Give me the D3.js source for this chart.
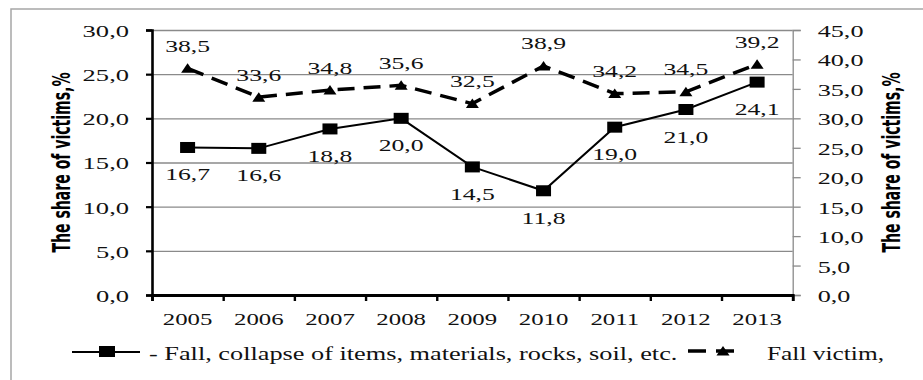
<!DOCTYPE html>
<html>
<head>
<meta charset="utf-8">
<script src="https://cdn.jsdelivr.net/npm/d3@7/dist/d3.min.js"></script>
<style>
  body { margin: 0; background: #fff; }
  svg { display: block; }
</style>
</head>
<body>
<svg id="chart" width="923" height="380"></svg>
<script>
// ---- data ----
const years = ["2005", "2006", "2007", "2008", "2009", "2010", "2011", "2012", "2013"];
const fallCollapse = [16.7, 16.6, 18.8, 20.0, 14.5, 11.8, 19.0, 21.0, 24.1];   // left axis
const fallVictim   = [38.5, 33.6, 34.8, 35.6, 32.5, 38.9, 34.2, 34.5, 39.2];   // right axis
const leftTicks  = [0, 5, 10, 15, 20, 25, 30];
const rightTicks = [0, 5, 10, 15, 20, 25, 30, 35, 40, 45];
const seriesNames = ["- Fall, collapse of items, materials, rocks, soil, etc.", "Fall victim,"];
const axisTitle = "The share of victims,%";

// ---- layout ----
const plot = { left: 152, right: 792.7, top: 30, bottom: 295 };
const SERIF = "'Liberation Serif', 'DejaVu Serif', serif";
const SANS_NARROW = "'Liberation Sans Narrow', 'DejaVu Sans Condensed', 'Liberation Sans', sans-serif";
const svg = d3.select("#chart");

const locale = d3.formatLocale({ decimal: ",", thousands: " ", grouping: [3], currency: ["", ""] });
const fmt = locale.format(".1f");

const x = d3.scaleBand().domain(years).range([plot.left, plot.right]);
const xEdge = d3.scaleLinear().domain([0, years.length]).range([plot.left, plot.right]);
const yL = d3.scaleLinear().domain([0, 30]).range([plot.bottom, plot.top]);
const yR = d3.scaleLinear().domain([0, 45]).range([plot.bottom, plot.top]);
const cx = d => x(d) + x.bandwidth() / 2;

// serif lettering, widened by factor k
function serifText(sel, size, k) {
  sel.attr("font-family", SERIF).attr("font-size", size).attr("font-weight", "normal").attr("fill", "#111");
  sel.each(function () {
    const w = this.getComputedTextLength();
    this.setAttribute("textLength", (w * k).toFixed(1));
    this.setAttribute("lengthAdjust", "spacingAndGlyphs");
  });
}

// outer frame
svg.append("rect")
  .attr("x", 11).attr("y", 9).attr("width", 1000).attr("height", 500)
  .attr("fill", "none").attr("stroke", "#a6a6a6").attr("stroke-width", 1.5);

// horizontal gridlines
svg.append("g")
  .attr("transform", `translate(${plot.left},0)`)
  .call(d3.axisLeft(yL).tickValues(leftTicks.filter(v => v > 0)).tickSize(-(plot.right - plot.left)).tickFormat(""))
  .call(g => g.select(".domain").remove())
  .call(g => g.selectAll("line").attr("stroke", "#8a8a8a").attr("stroke-width", 1.3));

// right axis
const gR = svg.append("g")
  .attr("transform", `translate(${plot.right},0)`)
  .call(d3.axisRight(yR).tickValues(rightTicks).tickSize(8).tickPadding(17).tickFormat(fmt));
gR.attr("font-family", null).attr("font-size", null);
gR.select(".domain").attr("stroke", "#8a8a8a").attr("stroke-width", 1.3);
gR.selectAll(".tick line").attr("stroke", "#8a8a8a").attr("stroke-width", 1.3);
gR.selectAll("text").attr("dy", "0.38em").call(serifText, 17, 1.54);

// left axis
const gL = svg.append("g")
  .attr("transform", `translate(${plot.left},0)`)
  .call(d3.axisLeft(yL).tickValues(leftTicks).tickSize(6).tickPadding(17).tickFormat(fmt));
gL.attr("font-family", null).attr("font-size", null);
gL.select(".domain").attr("stroke", "#000").attr("stroke-width", 2.6);
gL.selectAll(".tick line").attr("stroke", "#000").attr("stroke-width", 2.2);
gL.selectAll("text").attr("dy", "0.38em").call(serifText, 17, 1.56);

// bottom axis: boundary ticks
const gB = svg.append("g")
  .attr("transform", `translate(0,${plot.bottom})`)
  .call(d3.axisBottom(xEdge).ticks(years.length).tickSize(6).tickFormat(""));
gB.select(".domain").attr("stroke", "#000").attr("stroke-width", 2.8);
gB.selectAll(".tick line").attr("stroke", "#000").attr("stroke-width", 2.4);

// bottom axis: year labels
const gX = svg.append("g")
  .attr("transform", `translate(0,${plot.bottom})`)
  .call(d3.axisBottom(x).tickSize(0).tickPadding(18));
gX.attr("font-family", null).attr("font-size", null);
gX.select(".domain").remove();
gX.selectAll("text").call(serifText, 17, 1.46);

// series: fall, collapse (solid, squares)
const lineL = d3.line().x((d, i) => cx(years[i])).y(d => yL(d));
svg.append("path").datum(fallCollapse)
  .attr("d", lineL).attr("fill", "none").attr("stroke", "#000").attr("stroke-width", 2);
svg.append("g").selectAll("rect").data(fallCollapse).join("rect")
  .attr("x", (d, i) => cx(years[i]) - 7.5).attr("y", d => yL(d) - 5.5)
  .attr("width", 15).attr("height", 11).attr("fill", "#000");

// series: fall victim (dashed, triangles)
const lineR = d3.line().x((d, i) => cx(years[i])).y(d => yR(d));
svg.append("path").datum(fallVictim)
  .attr("d", lineR).attr("fill", "none").attr("stroke", "#000").attr("stroke-width", 3.5)
  .attr("stroke-dasharray", "17,9");
const tri = (px, py) => `M${px - 6.5},${py + 4.5}L${px},${py - 5}L${px + 6.5},${py + 4.5}Z`;
svg.append("g").selectAll("path").data(fallVictim).join("path")
  .attr("d", (d, i) => tri(cx(years[i]), yR(d))).attr("fill", "#000");

// data labels
svg.append("g").selectAll("text").data(fallCollapse).join("text")
  .attr("text-anchor", "middle")
  .attr("x", (d, i) => cx(years[i])).attr("y", d => yL(d) + 33)
  .text(fmt).call(serifText, 17, 1.51);
svg.append("g").selectAll("text").data(fallVictim).join("text")
  .attr("text-anchor", "middle")
  .attr("x", (d, i) => cx(years[i])).attr("y", d => yR(d) - 16.5)
  .text(fmt).call(serifText, 17, 1.51);

// axis titles
const midY = (plot.top + plot.bottom) / 2;
[[70, midY], [899.5, midY]].forEach(([tx, ty]) => {
  svg.append("text")
    .attr("font-family", SANS_NARROW).attr("font-weight", "bold").attr("font-size", 17).attr("fill", "#000")
    .attr("text-anchor", "middle")
    .attr("transform", `translate(${tx},${ty}) rotate(-90) scale(1,1.45)`)
    .attr("textLength", 180).attr("lengthAdjust", "spacingAndGlyphs")
    .text(axisTitle);
});

// legend
const lg = svg.append("g");
lg.append("line").attr("x1", 72).attr("x2", 140).attr("y1", 352).attr("y2", 352)
  .attr("stroke", "#000").attr("stroke-width", 2);
lg.append("rect").attr("x", 99).attr("y", 346).attr("width", 16).attr("height", 11).attr("fill", "#000");
lg.append("text").attr("x", 149).attr("y", 359.5).text(seriesNames[0]).call(serifText, 18, 1.46);

lg.append("line").attr("x1", 688).attr("x2", 741).attr("y1", 351).attr("y2", 351)
  .attr("stroke", "#000").attr("stroke-width", 3.5).attr("stroke-dasharray", "18,10");
lg.append("path").attr("d", tri(723, 351)).attr("fill", "#000");
lg.append("text").attr("x", 767).attr("y", 360).text(seriesNames[1]).call(serifText, 18, 1.41);
</script>
</body>
</html>
